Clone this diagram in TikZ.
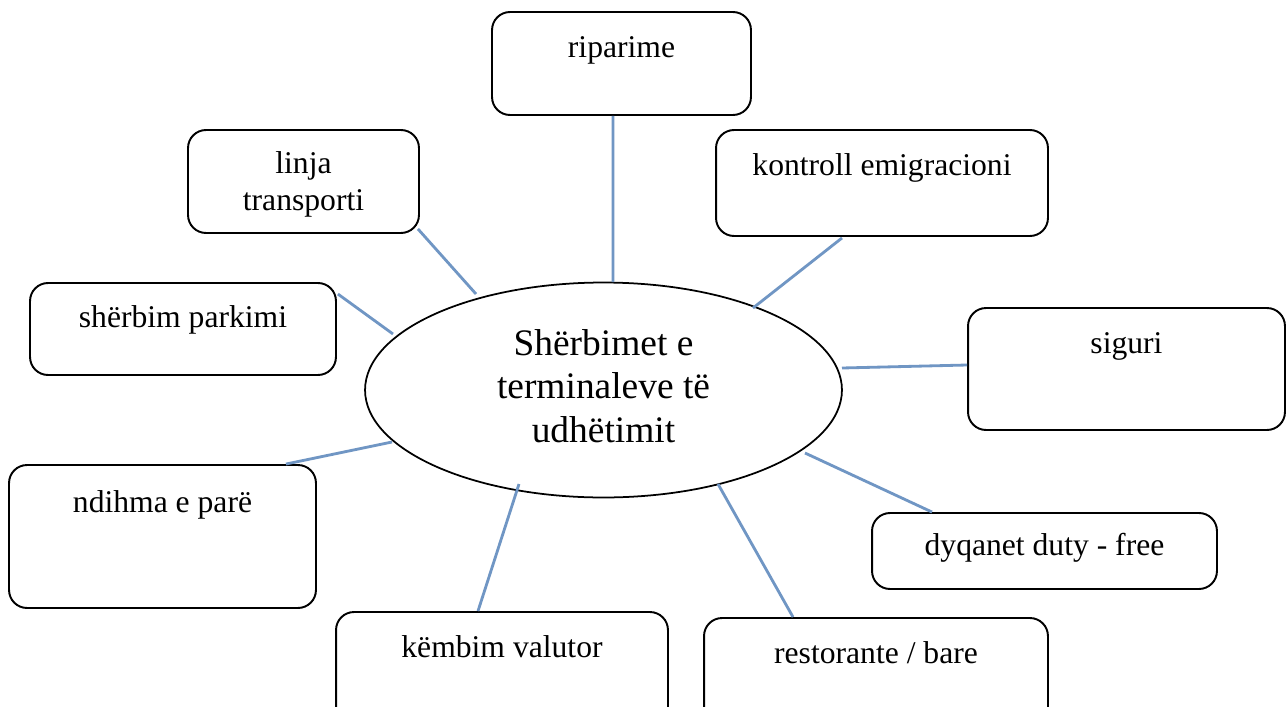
\documentclass[tikz,border=0pt]{standalone}
\usepackage{fontspec}
\setmainfont{Liberation Serif}
\usetikzlibrary{calc,shapes.geometric}
\definecolor{linkblue}{RGB}{112,150,196}
\tikzset{
  box/.style={draw=black, line width=1.1pt, rounded corners=0.36cm, inner sep=0pt},
  lbl/.style={anchor=base, inner sep=0pt, font=\fontsize{18}{21}\selectfont},
  hub/.style={draw=black, line width=1pt, ellipse, inner sep=0pt},
  hubtxt/.style={anchor=base, inner sep=0pt, font=\fontsize{21.3}{24}\selectfont},
  link/.style={draw=linkblue, line width=1.6pt}
}
\begin{document}
\begin{tikzpicture}[x=0.02cm, y=-0.02cm]
\clip (0,0) rectangle (1286,707);
\fill[white] (0,0) rectangle (1286,707);

% central ellipse
\node[hub, minimum width=9.54cm, minimum height=4.3cm] (e) at (603.5,390) {};
\node[hubtxt] (e1) at (603.5,355) {Shërbimet e};
\node[hubtxt] (e2) at (603.5,398) {terminaleve të};
\node[hubtxt] (e3) at (603.5,442) {udhëtimit};

% boxes
\node[box, minimum width=5.18cm, minimum height=2.06cm] (rip) at (621.5,63.5) {};
\node[lbl] (ript) at (621.5,57) {riparime};

\node[box, minimum width=4.62cm, minimum height=2.06cm] (lin) at (303.5,181.5) {};
\node[lbl] (lint1) at (303.5,173) {linja};
\node[lbl] (lint2) at (303.5,210) {transporti};

\node[box, minimum width=6.64cm, minimum height=2.12cm] (kon) at (882,183) {};
\node[lbl] (kont) at (882,175) {kontroll emigracioni};

\node[box, minimum width=6.12cm, minimum height=1.84cm] (par) at (183,329) {};
\node[lbl] (part) at (183,327) {shërbim parkimi};

\node[box, minimum width=6.34cm, minimum height=2.44cm] (sig) at (1126.5,369) {};
\node[lbl] (sigt) at (1126.5,353) {siguri};

\node[box, minimum width=6.14cm, minimum height=2.86cm] (ndi) at (162.5,536.5) {};
\node[lbl] (ndit) at (162.5,512) {ndihma e parë};

\node[box, minimum width=6.9cm, minimum height=1.52cm] (dyq) at (1044.5,551) {};
\node[lbl] (dyqt) at (1044.5,555) {dyqanet duty - free};

\node[box, minimum width=6.64cm, minimum height=2.56cm] (kem) at (502,676) {};
\node[lbl] (kemt) at (502,657) {këmbim valutor};

\node[box, minimum width=6.88cm, minimum height=2.54cm] (res) at (876,681.5) {};
\node[lbl] (rest) at (876,663) {restorante / bare};

% connectors
\draw[link] ($(rip.south)+(-8.5,0)$) -- ($(e.center)+(9.5,-108)$);
\draw[link] ($(lin.south east)+(-2,-5)$) -- ($(e.center)+(-127.5,-96)$);
\draw[link] ($(kon.south)+(-40,1)$) -- ($(e.center)+(149.5,-82)$);
\draw[link] ($(par.north east)+(1,12)$) -- ($(e.center)+(-210.5,-56)$);
\draw[link] ($(e.center)+(238.5,-22)$) -- ($(sig.west)+(0,-4)$);
\draw[link] ($(ndi.north east)+(-31,0)$) -- ($(e.center)+(-211.5,52)$);
\draw[link] ($(e.center)+(201.5,63)$) -- ($(dyq.north)+(-112.5,0)$);
\draw[link] ($(e.center)+(-84.5,94)$) -- ($(kem.north)+(-24,0)$);
\draw[link] ($(e.center)+(114.5,94)$) -- ($(res.north)+(-83,0)$);
\end{tikzpicture}
\end{document}
